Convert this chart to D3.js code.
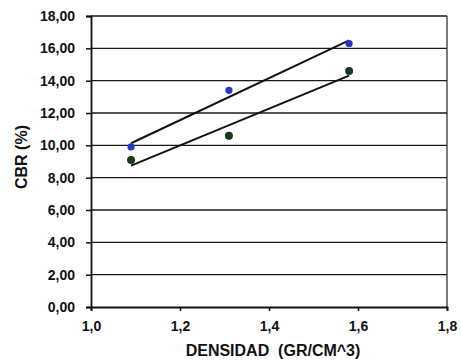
<!DOCTYPE html>
<html>
<head>
<meta charset="utf-8">
<script src="https://cdn.jsdelivr.net/npm/d3@7"></script>
<style>
  html, body { margin: 0; padding: 0; background: #fff; }
  svg text { font-family: "Liberation Sans", Arial, sans-serif; font-weight: bold; fill: #111; }
</style>
</head>
<body>
<svg id="chart" width="461" height="363"></svg>
<script>
// Density (gr/cm^3) of each specimen
const densidad = [1.09, 1.31, 1.58];
// CBR (%) for the two test series
const cbrAzul = [9.9, 13.4, 16.3];
const cbrVerde = [9.1, 10.6, 14.6];
// Axis ticks
const xTicks = [1.0, 1.2, 1.4, 1.6, 1.8];
const yTicks = [0, 2, 4, 6, 8, 10, 12, 14, 16, 18];

const svg = d3.select("#chart");
const m = { left: 91, right: 14, top: 16, bottom: 56 };
const W = 461, H = 363;

const x = d3.scaleLinear().domain([1.0, 1.8]).range([m.left, W - m.right]);
const y = d3.scaleLinear().domain([0, 18]).range([H - m.bottom, m.top]);

const fmtY = v => d3.format(".2f")(v).replace(".", ",");
const fmtX = v => d3.format(".1f")(v).replace(".", ",");

// horizontal gridlines
svg.append("g").selectAll("line").data(yTicks.filter(v => v > 0)).join("line")
  .attr("x1", x(1.0)).attr("x2", x(1.8))
  .attr("y1", d => y(d)).attr("y2", d => y(d))
  .attr("stroke", "#1a1a1a").attr("stroke-width", 1.4);

// plot frame (right edge)
svg.append("line").attr("x1", x(1.8)).attr("x2", x(1.8))
  .attr("y1", y(18)).attr("y2", y(0)).attr("stroke", "#222").attr("stroke-width", 1.2);

// y axis
const yAxis = d3.axisLeft(y).tickValues(yTicks).tickFormat(fmtY).tickSize(5).tickPadding(11);
const gy = svg.append("g").attr("transform", `translate(${x(1.0)},0)`).call(yAxis);
gy.select(".domain").attr("stroke", "#111").attr("stroke-width", 1.8);
gy.selectAll(".tick line").attr("stroke", "#111").attr("stroke-width", 1.5);
gy.selectAll(".tick text").attr("font-size", 14).attr("fill", "#111");

// x axis
const xAxis = d3.axisBottom(x).tickValues(xTicks).tickFormat(fmtX).tickSize(4).tickPadding(10);
const gx = svg.append("g").attr("transform", `translate(0,${y(0)})`).call(xAxis);
gx.select(".domain").attr("stroke", "#111").attr("stroke-width", 1.8);
gx.selectAll(".tick line").attr("stroke", "#111").attr("stroke-width", 1.5);
gx.selectAll(".tick text").attr("font-size", 14).attr("fill", "#111");

// axis titles
svg.append("text").attr("x", 273).attr("y", 356).attr("text-anchor", "middle")
  .attr("font-size", 16).attr("xml:space", "preserve").text("DENSIDAD  (GR/CM^3)");
svg.append("text").attr("transform", `translate(27,157) rotate(-90)`)
  .attr("text-anchor", "middle").attr("font-size", 16).text("CBR (%)");

// least-squares trendline over the data range
function trend(xs, ys) {
  const mx = d3.mean(xs), my = d3.mean(ys);
  const sxy = d3.sum(xs, (v, i) => (v - mx) * (ys[i] - my));
  const sxx = d3.sum(xs, v => (v - mx) * (v - mx));
  const b = sxy / sxx, a = my - b * mx;
  const x0 = d3.min(xs), x1 = d3.max(xs);
  return [[x0, a + b * x0], [x1, a + b * x1]];
}

const line = d3.line().x(d => x(d[0])).y(d => y(d[1]));
const series = [
  { vals: cbrVerde, color: "#1e3320", r: 4 },
  { vals: cbrAzul, color: "#2438c8", r: 3.6 }
];

series.forEach(s => {
  svg.append("path").datum(trend(densidad, s.vals)).attr("d", line)
    .attr("fill", "none").attr("stroke", "#111").attr("stroke-width", 2);
});
series.forEach(s => {
  svg.append("g").selectAll("circle").data(densidad).join("circle")
    .attr("cx", d => x(d)).attr("cy", (d, i) => y(s.vals[i]))
    .attr("r", s.r).attr("fill", s.color);
});
</script>
</body>
</html>
